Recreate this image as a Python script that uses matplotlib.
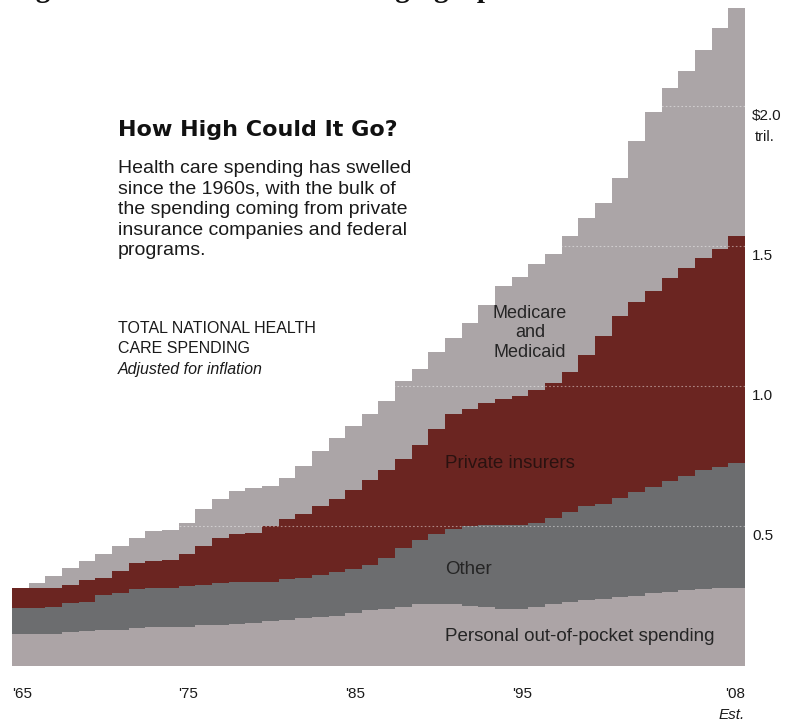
import matplotlib
matplotlib.use("Agg")
import matplotlib.pyplot as plt
import numpy as np

# ---- data (trillions of dollars, inflation adjusted) ----
years = list(range(1965, 2009))
personal = [0.115, 0.115, 0.115, 0.120, 0.125, 0.130, 0.130, 0.135, 0.140, 0.140,
            0.140, 0.145, 0.145, 0.150, 0.155, 0.160, 0.165, 0.170, 0.175, 0.180,
            0.190, 0.200, 0.205, 0.210, 0.220, 0.220, 0.220, 0.215, 0.210, 0.205,
            0.205, 0.210, 0.220, 0.230, 0.235, 0.240, 0.245, 0.250, 0.260, 0.265,
            0.270, 0.275, 0.280, 0.280]
other = [0.092, 0.092, 0.095, 0.105, 0.105, 0.125, 0.130, 0.140, 0.140, 0.140,
         0.145, 0.145, 0.150, 0.150, 0.145, 0.140, 0.145, 0.145, 0.150, 0.155,
         0.155, 0.160, 0.180, 0.210, 0.230, 0.250, 0.270, 0.285, 0.295, 0.300,
         0.300, 0.300, 0.310, 0.320, 0.335, 0.340, 0.355, 0.370, 0.380, 0.395,
         0.410, 0.425, 0.430, 0.445]
private = [0.072, 0.073, 0.070, 0.065, 0.077, 0.059, 0.080, 0.093, 0.095, 0.100,
           0.115, 0.140, 0.162, 0.170, 0.175, 0.200, 0.215, 0.228, 0.245, 0.261,
           0.285, 0.305, 0.315, 0.320, 0.340, 0.375, 0.410, 0.418, 0.435, 0.450,
           0.460, 0.475, 0.480, 0.500, 0.540, 0.600, 0.650, 0.680, 0.700, 0.725,
           0.740, 0.757, 0.780, 0.811]
medicare = [0.000, 0.018, 0.041, 0.060, 0.068, 0.086, 0.088, 0.090, 0.107, 0.106,
            0.112, 0.130, 0.139, 0.155, 0.161, 0.143, 0.145, 0.171, 0.198, 0.218,
            0.227, 0.235, 0.246, 0.278, 0.270, 0.275, 0.270, 0.307, 0.350, 0.402,
            0.425, 0.451, 0.460, 0.486, 0.490, 0.474, 0.493, 0.575, 0.640, 0.680,
            0.705, 0.743, 0.790, 0.814]

series_names = ["Personal out-of-pocket spending", "Other", "Private insurers",
                "Medicare\nand\nMedicaid"]
series_colors = ["#aca4a6", "#6c6d6f", "#6b2521", "#aba5a7"]
y_ticks = [0.5, 1.0, 1.5, 2.0]
y_tick_labels = ["0.5", "1.0", "1.5", "$2.0"]
x_tick_years = [1965, 1975, 1985, 1995, 2008]
x_tick_labels = ["'65", "'75", "'85", "'95", "'08"]

W, H = 796, 721
fig = plt.figure(figsize=(W / 100, H / 100), dpi=100)
fig.patch.set_facecolor("white")

ax_left, ax_right, ax_bottom = 12, 745, 55
ymax = 2.37
ax_h = 280 * ymax
ax = fig.add_axes([ax_left / W, ax_bottom / H, (ax_right - ax_left) / W, ax_h / H])
ax.set_xlim(1965, 2009)
ax.set_ylim(0, ymax)
ax.axis("off")

font = "Liberation Sans"
txt_col = "#1a1a1a"
xs = np.array(years + [years[-1] + 1])
base = np.zeros(len(xs))
for vals, col in zip([personal, other, private, medicare], series_colors):
    v = np.array(vals + [vals[-1]])
    ax.fill_between(xs, base, base + v, step="post", color=col, linewidth=0)
    base = base + v

# dotted gridlines over the areas
for v in y_ticks:
    ax.axhline(v, color="white", alpha=0.45, linestyle=(0, (1.5, 2)), linewidth=0.8, zorder=5)

# right-side value labels
ytr = ax.get_yaxis_transform()
for v, lab in zip(y_ticks, y_tick_labels):
    ax.text(1.01, v - 0.012, lab, transform=ytr, ha="left", va="top",
            fontsize=11, family=font, color=txt_col, clip_on=False)
ax.text(1.013, 2.0 - 0.087, "tril.", transform=ytr, ha="left", va="top",
        fontsize=10.5, family=font, color=txt_col, clip_on=False)

# x labels
for yr, lab in zip(x_tick_years, x_tick_labels):
    if yr == 2008:
        ax.text(2009, -0.075, lab, ha="right", va="top", fontsize=11, family=font,
                color=txt_col, clip_on=False)
    else:
        ax.text(yr, -0.075, lab, ha="left", va="top", fontsize=11, family=font,
                color=txt_col, clip_on=False)
ax.text(2009, -0.15, "Est.", ha="right", va="top", fontsize=11, family=font,
        style="italic", color=txt_col, clip_on=False)

# in-chart series labels
lab_col = "#252525"
ax.text(1996.1, 1.19, series_names[3], ha="center", va="center", fontsize=13,
        family=font, color=lab_col, linespacing=1.2)
ax.text(1991, 0.725, series_names[2], ha="left", va="center", fontsize=13.5,
        family=font, color="#2a1210")
ax.text(1991, 0.346, series_names[1], ha="left", va="center", fontsize=13.5,
        family=font, color=lab_col)
ax.text(1991, 0.104, series_names[0], ha="left", va="center", fontsize=13.5,
        family=font, color=lab_col)

# headline block
fig.text(118 / W, 1 - 130 / H, "How High Could It Go?", ha="left", va="center",
         fontsize=16, family="DejaVu Sans", weight="bold", color="#111111")
fig.text(118 / W, 1 - 160 / H,
         "Health care spending has swelled\nsince the 1960s, with the bulk of\n"
         "the spending coming from private\ninsurance companies and federal\nprograms.",
         ha="left", va="top", fontsize=14, family=font, color=txt_col, linespacing=1.27)
fig.text(118 / W, 1 - 321 / H, "TOTAL NATIONAL HEALTH\nCARE SPENDING", ha="left", va="top",
         fontsize=11.5, family=font, color=txt_col, linespacing=1.38)
fig.text(118 / W, 1 - 362 / H, "Adjusted for inflation", ha="left", va="top",
         fontsize=11.5, family=font, style="italic", color=txt_col)

# cropped page caption at the very top
fig.text(10 / W, 1 + 3 / H, "Figure 2: Healthcare Costs Ringing Up", ha="left", va="baseline",
         fontsize=21, family="Liberation Serif", weight="bold", color="#111111")

fig.savefig("out.png", dpi=100, facecolor="white")
